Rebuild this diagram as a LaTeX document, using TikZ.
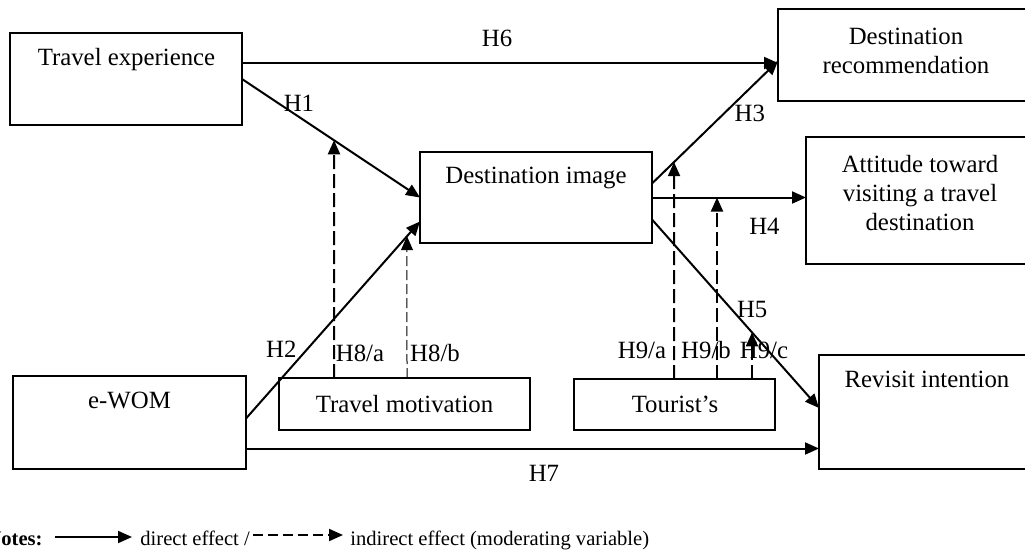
\documentclass[tikz,border=0pt]{standalone}
\usepackage{fontspec}
\setmainfont{Liberation Serif}
\usetikzlibrary{positioning, arrows.meta, calc}

\begin{document}
\begin{tikzpicture}[x=0.5pt, y=-0.5pt,
    box/.style={draw, line width=1.3pt, inner sep=0pt, outer sep=0pt},
    txt/.style={font=\fontsize{12.4}{14.5}\selectfont, align=center, inner sep=0pt},
    hyp/.style={font=\fontsize{12.4}{14.5}\selectfont, inner sep=0pt},
    note/.style={font=\fontsize{10.3}{12}\selectfont, inner sep=0pt},
    pfeil/.style={-{Triangle[length=7pt, width=6pt]}, line width=1pt},
    mod/.style={pfeil, dash pattern=on 7pt off 2.5pt},
    modthin/.style={pfeil, line width=.5pt, dash pattern=on 5pt off 2pt}]
  \useasboundingbox (0,0) rectangle (1025,552);
  \clip (0,0) rectangle (1025,552);
  % boxes
  \node[box, minimum width=116pt, minimum height=46pt] (exp) at (126,79) {};
  \node[box, minimum width=116pt, minimum height=45.5pt] (img) at (536,197.5) {};
  \node[box, minimum width=128pt, minimum height=46pt] (rec) at (906,55) {};
  \node[box, minimum width=114pt, minimum height=63.5pt] (att) at (920,200.5) {};
  \node[box, minimum width=116.5pt, minimum height=46.5pt] (ewom) at (129.5,422.5) {};
  \node[box, minimum width=125.5pt, minimum height=26pt] (mot) at (404.5,404) {};
  \node[box, minimum width=100.5pt, minimum height=25.5pt] (tour) at (674.5,404.5) {};
  \node[box, minimum width=107.5pt, minimum height=57pt] (rev) at (926.5,412) {};
  % texts
  \node[txt] (exp-t) at (126.5,60) {Travel experience};
  \node[txt] (img-t) at (536,178) {Destination image};
  \node[txt] (rec-t) at (906,50.5) {Destination\\recommendation};
  \node[txt] (att-t) at (920,193.5) {Attitude toward\\visiting a travel\\destination};
  \node[txt] (ewom-t) at (129.5,400) {e-WOM};
  \node[txt] (mot-t) at (404.5,404) {Travel motivation};
  \node[txt] (tour-t) at (675,404) {Tourist’s};
  \node[txt] (rev-t) at (927,379) {Revisit intention};
  % direct effects
  \coordinate (h2s) at ([yshift=2pt]ewom.east);
  \coordinate (h2e) at ([yshift=-12pt]img.west);
  \coordinate (h3s) at ([yshift=7pt]img.east);
  \coordinate (h3e) at ([yshift=-3pt]rec.west);
  \coordinate (h5s) at ([yshift=-11pt]img.east);
  \coordinate (h5e) at ([yshift=2pt]rev.west);
  \coordinate (h6s) at ([yshift=8pt]exp.east);
  \coordinate (h7s) at ([yshift=-13pt]ewom.east);
  \draw[pfeil] (h6s) -- node[hyp, pos=.476, yshift=12.25pt]{H6} (h6s -| rec.west);
  \draw[pfeil] (exp.east) -- node[hyp, pos=.32, yshift=6.75pt]{H1} (img.west);
  \draw[pfeil] (h2s) -- node[hyp, pos=.35, xshift=-12.75pt]{H2} (h2e);
  \draw[pfeil] (h3s) -- node[hyp, pos=.57, xshift=13pt]{H3} (h3e);
  \draw[pfeil] (img.east) -- node[hyp, pos=.73, yshift=-14.25pt]{H4} (img.east -| att.west);
  \draw[pfeil] (h5s) -- node[hyp, pos=.48, xshift=10pt]{H5} (h5e);
  \draw[pfeil] (h7s) -- node[hyp, pos=.52, yshift=-12.5pt]{H7} (h7s -| rev.west);
  % moderating effects
  \draw[mod] (334,0 |- mot.north) -- node[hyp, pos=.105, xshift=13pt]{H8/a}
    (intersection cs: first line={(exp.east)--(img.west)}, second line={(334,0)--(334,552)});
  \draw[modthin] (407,0 |- mot.north) -- node[hyp, pos=.176, xshift=14pt]{H8/b}
    (intersection cs: first line={(h2s)--(h2e)}, second line={(407,0)--(407,552)});
  \draw[mod] (674,0 |- tour.north) -- node[hyp, pos=.134, xshift=-16pt]{H9/a}
    (intersection cs: first line={(h3s)--(h3e)}, second line={(674,0)--(674,552)});
  \draw[mod] (717,0 |- tour.north) -- node[hyp, pos=.16, xshift=-5.5pt]{H9/b}
    (717,0 |- img.east);
  \draw[mod] (752,0 |- tour.north) -- node[hyp, pos=.617, xshift=6pt]{H9/c}
    (intersection cs: first line={(h5s)--(h5e)}, second line={(752,0)--(752,552)});
  % notes
  \node[note, anchor=base east, font=\fontsize{10.3}{12}\selectfont\bfseries] (notes) at (43,545) {Notes:};
  \coordinate (d1) at (55,537);
  \coordinate (d2) at (132,537);
  \draw[pfeil] (d1) -- (d2);
  \node[note, anchor=base west] (direct) at (140,545) {direct effect /};
  \coordinate (i1) at (253,535);
  \coordinate (i2) at (343,535);
  \draw[pfeil, dash pattern=on 5pt off 2.5pt] (i1) -- (i2);
  \node[note, anchor=base west] (indirect) at (350,545) {indirect effect (moderating variable)};
\end{tikzpicture}
\end{document}
